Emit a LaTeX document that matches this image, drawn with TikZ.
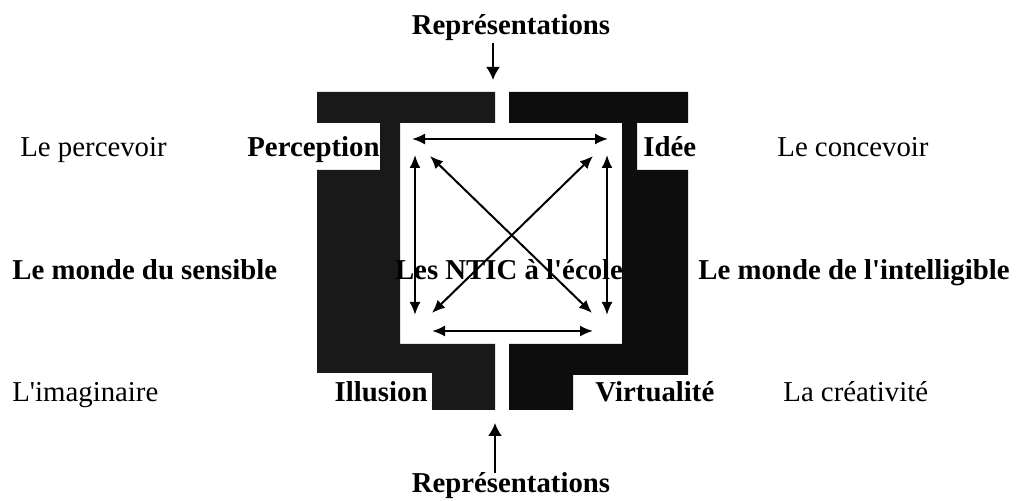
\documentclass[tikz,border=0pt]{standalone}
\usepackage{fontspec}
\setmainfont{Liberation Serif}
\usetikzlibrary{arrows.meta}

\begin{document}
\begin{tikzpicture}[x=0.5pt, y=-0.5pt, >={Latex[length=6.5pt,width=5.5pt]},
	every node/.style={inner sep=0pt, font=\fontsize{14.4}{17}\selectfont},
	lab/.style={font=\fontsize{14.4}{17}\selectfont\bfseries},
	wall/.style={fill=black!90},
	link/.style={<->, line width=1pt},
	feed/.style={-{Latex[length=6.5pt,width=7pt]}, line width=1pt}]
	\useasboundingbox (0,0) rectangle (1018,501);
	% the two black walls
	\fill[wall] (317,92) -- (495,92) -- (495,123) -- (400,123) -- (400,344) -- (495,344) -- (495,410) -- (432,410) -- (432,373) -- (317,373) -- (317,170) -- (380,170) -- (380,123) -- (317,123) -- cycle;
	\fill[wall, fill=black!95] (509,92) -- (688,92) -- (688,123) -- (637,123) -- (637,170) -- (688,170) -- (688,375) -- (573,375) -- (573,410) -- (509,410) -- (509,344) -- (622,344) -- (622,123) -- (509,123) -- cycle;

	\node[lab, anchor=base] (rtop) at (511,35) {Représentations};
	\node[lab, anchor=base] (rbot) at (511,493) {Représentations};
	\node[anchor=base west] (perc) at (20,157) {Le percevoir};
	\node[lab, anchor=base east] (percep) at (380,157) {Perception};
	\node[lab, anchor=base west] (idee) at (643,157) {Idée};
	\node[anchor=base west] (conc) at (777,157) {Le concevoir};
	\node[lab, anchor=base west] (sens) at (12,280) {Le monde du sensible};
	\node[lab, anchor=base] (ntic) at (509,280) {Les NTIC à l\textquotesingle école};
	\node[lab, anchor=base west] (intel) at (698,280) {Le monde de l\textquotesingle intelligible};
	\node[anchor=base west] (imag) at (12,402) {L\textquotesingle imaginaire};
	\node[lab, anchor=base east] (illu) at (428,402) {Illusion};
	\node[lab, anchor=base west] (virt) at (595,402) {Virtualité};
	\node[anchor=base west] (creat) at (783,402) {La créativité};

	% arrow ends
	\coordinate (t1) at (493,43);  \coordinate (t2) at (493,80);
	\coordinate (u1) at (495,473); \coordinate (u2) at (495,423);
	\coordinate (a1) at (412,139); \coordinate (a2) at (608,139);
	\coordinate (b1) at (415,155); \coordinate (b2) at (415,315);
	\coordinate (c1) at (607,155); \coordinate (c2) at (607,315);
	\coordinate (d1) at (430,156); \coordinate (d2) at (592,313);
	\coordinate (e1) at (432,313); \coordinate (e2) at (593,156);
	\coordinate (f1) at (432,331); \coordinate (f2) at (593,331);

	\draw[feed] (t1) -- (t2);
	\draw[feed] (u1) -- (u2);
	\draw[link] (a1) -- (a2);
	\draw[link] (b1) -- (b2);
	\draw[link] (c1) -- (c2);
	\draw[link] (d1) -- (d2);
	\draw[link] (e1) -- (e2);
	\draw[link] (f1) -- (f2);
\end{tikzpicture}
\end{document}
